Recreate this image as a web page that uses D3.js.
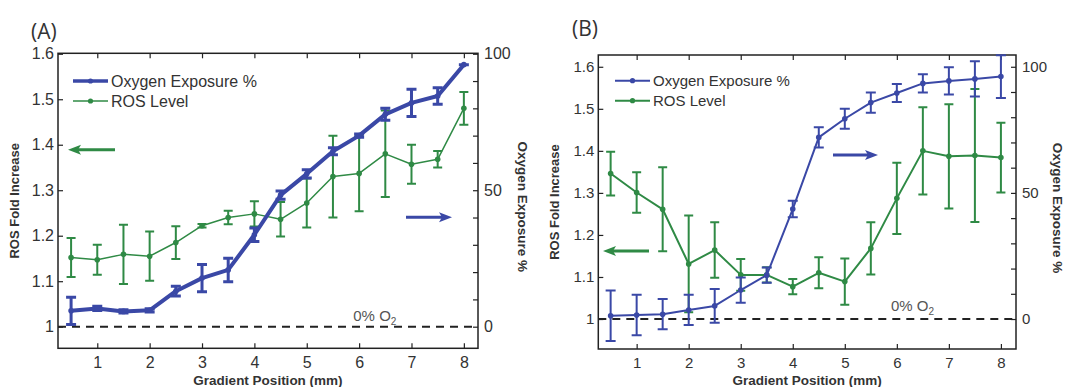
<!DOCTYPE html>
<html>
<head>
<meta charset="utf-8">
<script src="https://cdn.jsdelivr.net/npm/d3@7"></script>
<style>
  body { margin: 0; background: #fff; }
  svg { display: block; font-family: "Liberation Sans", Arial, sans-serif; }
</style>
</head>
<body>
<svg id="chart" width="1069" height="387"></svg>
<script>
// gradient positions (mm)
const positions = [0.5, 1, 1.5, 2, 2.5, 3, 3.5, 4, 4.5, 5, 5.5, 6, 6.5, 7, 7.5, 8];

// panel A
const oxygenA = [5.8, 6.7, 5.6, 6.0, 13.0, 17.8, 20.8, 33.7, 48.2, 56.0, 64.3, 70.0, 77.8, 82.0, 84.5, 96.0];
const oxygenErrA = [5, 0.8, 0.6, 0.6, 1.8, 5, 4.3, 2.5, 1.5, 1.5, 1.3, 0.6, 2.2, 5, 3, 0];
const rosA = [1.152, 1.147, 1.159, 1.155, 1.185, 1.222, 1.240, 1.248, 1.236, 1.272, 1.330, 1.337, 1.380, 1.357, 1.368, 1.480];
const rosErrA = [0.043, 0.033, 0.065, 0.054, 0.036, 0.004, 0.015, 0.028, 0.038, 0.054, 0.090, 0.083, 0.095, 0.043, 0.018, 0.036];

// panel B
const oxygenB = [1.3, 1.6, 1.9, 3.6, 5.2, 11.5, 17.4, 43.6, 72.0, 79.4, 85.8, 89.6, 93.4, 94.4, 95.2, 96.1];
const oxygenErrB = [10, 8, 6, 6, 6.7, 5, 3, 3.3, 4, 4, 4, 3.6, 3.6, 5.4, 7, 8.5];
const rosB = [1.346, 1.301, 1.261, 1.131, 1.164, 1.105, 1.105, 1.077, 1.110, 1.089, 1.168, 1.287, 1.400, 1.387, 1.389, 1.384];
const rosErrB = [0.052, 0.048, 0.100, 0.115, 0.066, 0.038, 0.018, 0.018, 0.037, 0.055, 0.062, 0.085, 0.104, 0.124, 0.158, 0.083];

// ticks
const xTicks = [1, 2, 3, 4, 5, 6, 7, 8];
const rosTicks = [1, 1.1, 1.2, 1.3, 1.4, 1.5, 1.6];
const rosTickLabels = ['1', '1.1', '1.2', '1.3', '1.4', '1.5', '1.6'];
const oxygenTicks = [0, 10, 20, 30, 40, 50, 60, 70, 80, 90, 100];
const oxygenTickLabels = ['0', '', '', '', '', '50', '', '', '', '', '100'];

const blue = '#3a48a6';
const green = '#2f8a45';
const ink = '#222';

const svg = d3.select('#chart');

function drawPanel(p) {
  const g = svg.append('g');
  const x = d3.scaleLinear().domain(p.xDomain).range([p.left, p.right]);
  const yL = d3.scaleLinear().domain(p.yDomain).range([p.bottom, p.top]);
  // right axis: 0..100 % maps onto 1.0..1.6 fold
  const yR = d3.scaleLinear()
    .domain(p.yDomain.map(v => (v - 1) / 0.006))
    .range([p.bottom, p.top]);

  const tick = 5;
  const fs = p.fontSize;

  const axL = g.append('g').attr('transform', `translate(${p.left},0)`)
    .call(d3.axisLeft(yL).tickValues(rosTicks).tickSize(-tick).tickPadding(4)
      .tickFormat((d, i) => rosTickLabels[i]));
  const axR = g.append('g').attr('transform', `translate(${p.right},0)`)
    .call(d3.axisRight(yR).tickValues(oxygenTicks).tickSize(-tick).tickPadding(6)
      .tickFormat((d, i) => oxygenTickLabels[i]));
  const axB = g.append('g').attr('transform', `translate(0,${p.bottom})`)
    .call(d3.axisBottom(x).tickValues(xTicks).tickSize(-tick).tickPadding(8)
      .tickFormat(d3.format('d')));
  const axT = g.append('g').attr('transform', `translate(0,${p.top})`)
    .call(d3.axisTop(x).tickValues(xTicks).tickSize(-tick).tickFormat(''));

  [axL, axR, axB, axT].forEach(a => {
    a.select('.domain').remove();
    a.selectAll('line').attr('stroke', ink).attr('stroke-width', 1.2);
    a.selectAll('text').attr('font-size', fs).attr('fill', '#333')
      .attr('font-family', '"Liberation Sans", Arial, sans-serif');
  });

  g.append('rect')
    .attr('x', p.left).attr('y', p.top)
    .attr('width', p.right - p.left).attr('height', p.bottom - p.top)
    .attr('fill', 'none').attr('stroke', ink).attr('stroke-width', 1.5);

  // 0% O2 reference line
  g.append('line')
    .attr('x1', p.left).attr('x2', p.right)
    .attr('y1', yL(1)).attr('y2', yL(1))
    .attr('stroke', ink).attr('stroke-width', 2).attr('stroke-dasharray', '8,6');

  const o2 = g.append('text')
    .attr('x', x(p.o2At[0])).attr('y', yL(p.o2At[1]))
    .attr('text-anchor', 'middle').attr('font-size', 15).attr('fill', '#555');
  o2.append('tspan').text('0% O');
  o2.append('tspan').attr('font-size', 10).attr('dy', 4).text('2');

  function series(vals, errs, y, color, lw, ew, capW, r) {
    const s = g.append('g');
    s.selectAll('.eb').data(vals).enter().append('path')
      .attr('d', (d, i) => {
        const cx = x(positions[i]);
        const y1 = y(d - errs[i]), y2 = y(d + errs[i]);
        return `M${cx},${y1}V${y2}M${cx - capW},${y1}H${cx + capW}M${cx - capW},${y2}H${cx + capW}`;
      })
      .attr('stroke', color).attr('stroke-width', ew).attr('fill', 'none');
    s.append('path').datum(vals)
      .attr('d', d3.line().x((d, i) => x(positions[i])).y(d => y(d)))
      .attr('fill', 'none').attr('stroke', color).attr('stroke-width', lw)
      .attr('stroke-linejoin', 'round');
    s.selectAll('circle').data(vals).enter().append('circle')
      .attr('cx', (d, i) => x(positions[i])).attr('cy', d => y(d))
      .attr('r', r).attr('fill', color);
  }

  series(p.ros, p.rosErr, yL, green, p.greenW, 2, 4.5, 2.8);
  series(p.oxy, p.oxyErr, yR, blue, p.blueW, p.blueEW, 5, 2.8);

  // legend
  const lg = g.append('g');
  [['Oxygen Exposure %', blue, p.blueW], ['ROS Level', green, p.greenW]].forEach((it, i) => {
    const ly = p.legend[1] + i * 20;
    lg.append('line').attr('x1', p.legend[0]).attr('x2', p.legend[0] + 35)
      .attr('y1', ly).attr('y2', ly).attr('stroke', it[1]).attr('stroke-width', Math.min(it[2], 3.5));
    lg.append('circle').attr('cx', p.legend[0] + 17.5).attr('cy', ly).attr('r', 2.6).attr('fill', it[1]);
    lg.append('text').attr('x', p.legend[0] + 38).attr('y', ly + 5.5)
      .attr('font-size', p.legendSize).attr('fill', '#333').text(it[0]);
  });

  // direction arrows
  function arrow(x1, x2, yy, color) {
    const dir = Math.sign(x2 - x1);
    g.append('line').attr('x1', x1).attr('x2', x2 - dir * 6).attr('y1', yy).attr('y2', yy)
      .attr('stroke', color).attr('stroke-width', 3);
    g.append('path')
      .attr('d', `M${x2},${yy}L${x2 - dir * 13},${yy - 5}L${x2 - dir * 10},${yy}L${x2 - dir * 13},${yy + 5}Z`)
      .attr('fill', color);
  }
  arrow(p.greenArrow[0], p.greenArrow[1], p.greenArrow[2], green);
  arrow(p.blueArrow[0], p.blueArrow[1], p.blueArrow[2], blue);

  // titles
  const midY = (p.top + p.bottom) / 2;
  g.append('text').attr('transform', `translate(${p.left - 39},${midY}) rotate(-90)`)
    .attr('text-anchor', 'middle').attr('font-size', 13).attr('font-weight', 'bold')
    .attr('fill', '#333').text('ROS Fold Increase');
  g.append('text').attr('transform', `translate(${p.right + p.rightTitle},${midY + 6}) rotate(90)`)
    .attr('text-anchor', 'middle').attr('font-size', 13.5).attr('font-weight', 'bold')
    .attr('fill', '#333').text('Oxygen Exposure %');
  g.append('text').attr('x', (p.left + p.right) / 2).attr('y', 385)
    .attr('text-anchor', 'middle').attr('font-size', 13.5).attr('font-weight', 'bold')
    .attr('fill', '#333').text('Gradient Position (mm)');
  g.append('text').attr('x', p.label[0]).attr('y', p.label[1])
    .attr('font-size', 21).attr('fill', '#333')
    .attr('font-family', '"Open Sans", "Liberation Sans", sans-serif').text(p.name);
}

drawPanel({
  name: '(A)', label: [31, 39],
  left: 58, right: 478, top: 53.3, bottom: 348.3,
  xDomain: [0.25, 8.27], yDomain: [0.9525, 1.601],
  ros: rosA, rosErr: rosErrA, oxy: oxygenA, oxyErr: oxygenErrA,
  blueW: 4, blueEW: 3, greenW: 1.5, fontSize: 16, legendSize: 16,
  legend: [73, 81], o2At: [6.3, 1.012], rightTitle: 40,
  greenArrow: [115, 68, 149.7], blueArrow: [406, 452, 217.3]
});

drawPanel({
  name: '(B)', label: [572, 36],
  left: 598.3, right: 1016, top: 55, bottom: 349,
  xDomain: [0.263, 8.29], yDomain: [0.9287, 1.628],
  ros: rosB, rosErr: rosErrB, oxy: oxygenB, oxyErr: oxygenErrB,
  blueW: 2, blueEW: 2, greenW: 2, fontSize: 15, legendSize: 15,
  legend: [615, 80.7], o2At: [6.3, 1.02], rightTitle: 37,
  greenArrow: [649, 603, 251], blueArrow: [833, 878, 155]
});
</script>
</body>
</html>
